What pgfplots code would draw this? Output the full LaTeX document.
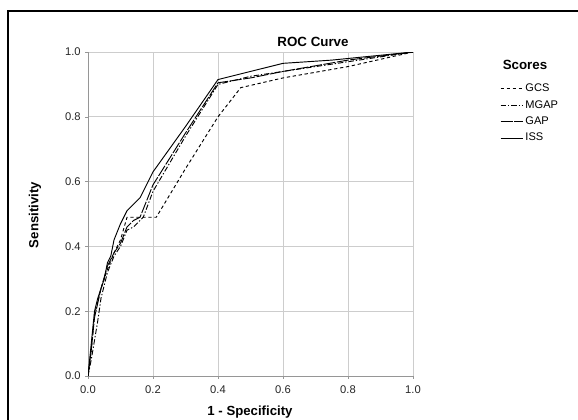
\documentclass[border=0pt]{standalone}
\usepackage{pgfplots}
\pgfplotsset{compat=1.18}
\usepackage{fontspec}
\setmainfont{Liberation Sans}
\definecolor{gridgray}{RGB}{205,205,205}
\definecolor{axisgray}{RGB}{150,150,150}
% 1 px of the reference = 0.75pt
\newcommand{\px}{0.75pt}
\begin{document}
\begin{tikzpicture}
\useasboundingbox (0,0) rectangle (578*\px,-419*\px);
% outer frame (cut at right and bottom)
\draw[line width=1.6pt] (8*\px,-430*\px) -- (8*\px,-11*\px) -- (590*\px,-11*\px);
\node[font=\bfseries\fontsize{10}{12}\selectfont] at (313*\px,-42*\px) {ROC Curve};
\node[font=\bfseries\fontsize{9.9}{12}\selectfont] at (250*\px,-412*\px) {1 - Specificity};
\node[font=\bfseries\fontsize{9.9}{12}\selectfont, rotate=90] at (35*\px,-215*\px) {Sensitivity};
\node[font=\bfseries\fontsize{10}{12}\selectfont] at (525*\px,-65*\px) {Scores};
\begin{axis}[
  at={(88*\px,-376*\px)}, anchor=south west,
  scale only axis,
  width=325*\px, height=324*\px,
  xmin=0, xmax=1, ymin=0, ymax=1,
  axis lines=left,
  axis line style={axisgray, -},
  grid=major,
  major grid style={gridgray, line width=0.6pt},
  xtick={0,0.2,0.4,0.6,0.8,1.0},
  ytick={0,0.2,0.4,0.6,0.8,1.0},
  tick align=outside,
  major tick length=2pt,
  tick style={axisgray},
  xticklabel style={yshift=-2pt},
  ticklabel style={font=\fontsize{8.4}{10}\selectfont, text=black!85},
  /pgf/number format/assume math mode=true,
  /pgf/number format/.cd, fixed, fixed zerofill, precision=1, /tikz/.cd,
  every axis plot/.append style={black, line width=0.7pt},
  legend style={at={(1.255,0.915)}, anchor=north west, draw=none, fill=none,
    font=\fontsize{8.3}{9}\selectfont, row sep=2.6pt,
    nodes={inner sep=1.2pt}},
  legend cell align=left,
]
\addplot[dash pattern=on 2.5pt off 2pt] coordinates {
 (0,0) (0.005,0.04) (0.01,0.08) (0.02,0.19) (0.04,0.27) (0.06,0.33) (0.08,0.38)
 (0.10,0.42) (0.12,0.49) (0.21,0.49) (0.30,0.64) (0.40,0.80) (0.47,0.89)
 (0.60,0.92) (0.80,0.955) (1,1)
};
\addlegendentry{GCS}
\addplot[dash pattern=on 4pt off 1.5pt on 1pt off 1.5pt] coordinates {
 (0,0) (0.01,0.05) (0.02,0.11) (0.03,0.17) (0.04,0.24) (0.06,0.32) (0.08,0.37)
 (0.10,0.40) (0.12,0.45) (0.14,0.46) (0.17,0.49) (0.20,0.57) (0.30,0.74)
 (0.40,0.90) (0.50,0.925) (0.60,0.94) (0.80,0.97) (1,1)
};
\addlegendentry{MGAP}
\addplot[dash pattern=on 9pt off 1.2pt] coordinates {
 (0,0) (0.01,0.08) (0.02,0.18) (0.04,0.27) (0.06,0.34) (0.08,0.38) (0.10,0.41)
 (0.12,0.46) (0.14,0.48) (0.16,0.49) (0.20,0.59) (0.30,0.75) (0.40,0.905)
 (0.50,0.92) (0.60,0.94) (0.80,0.975) (1,1)
};
\addlegendentry{GAP}
\addplot[solid] coordinates {
 (0,0) (0.005,0.05) (0.01,0.10) (0.02,0.20) (0.03,0.24) (0.05,0.30) (0.06,0.35)
 (0.07,0.37) (0.08,0.42) (0.10,0.47) (0.12,0.51) (0.14,0.53) (0.16,0.55)
 (0.20,0.63) (0.30,0.77) (0.40,0.915) (0.50,0.94) (0.60,0.965) (0.75,0.975)
 (0.90,0.99) (1,1)
};
\addlegendentry{ISS}
\end{axis}
\end{tikzpicture}
\end{document}
